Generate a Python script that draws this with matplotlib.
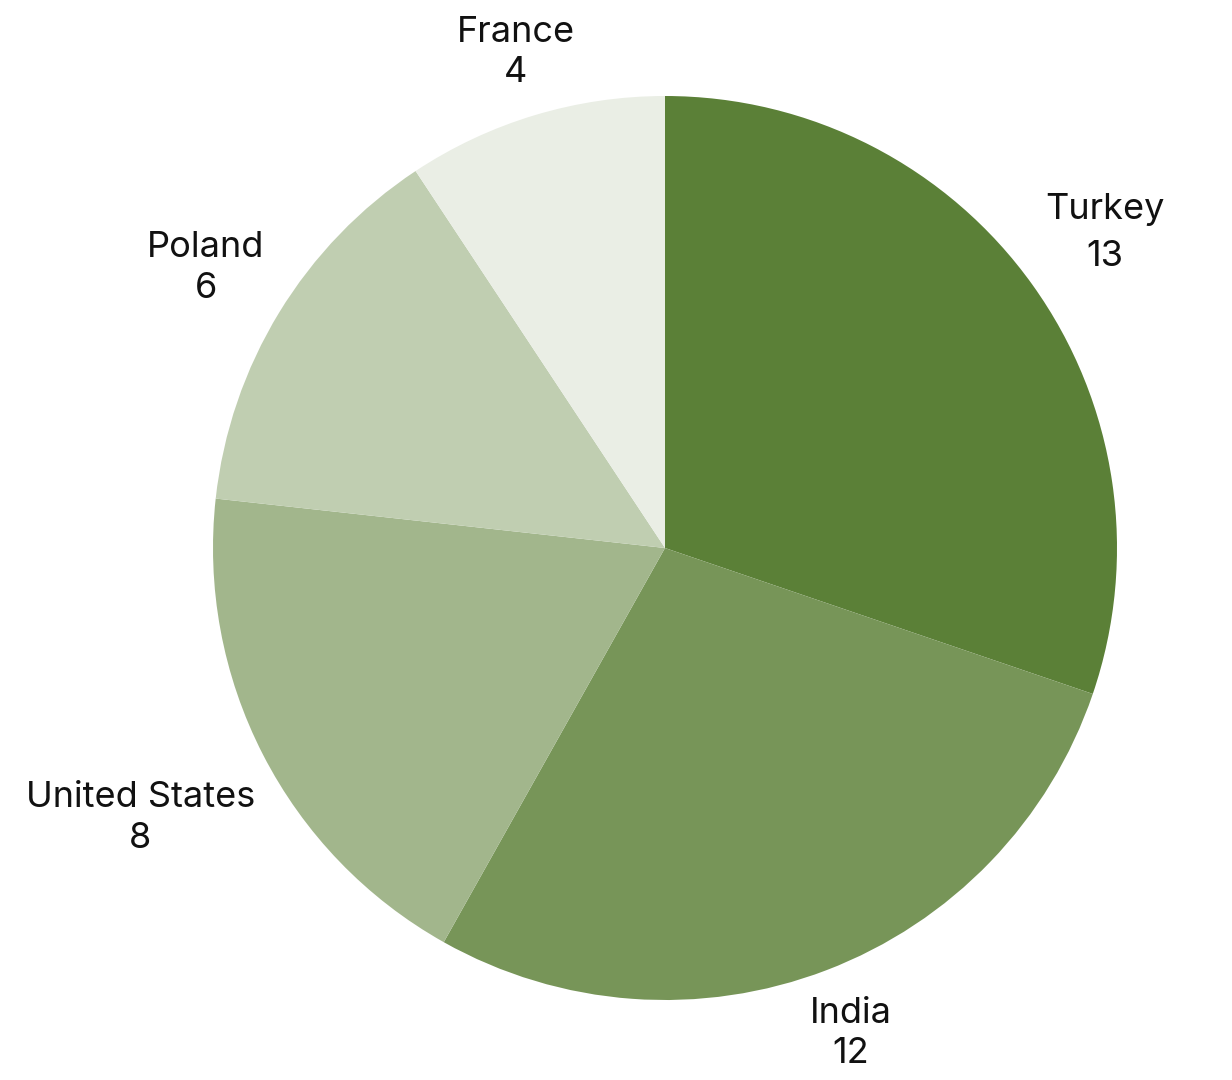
import numpy as np
import matplotlib.pyplot as plt

plt.rcParams['font.family'] = ['Inter', 'DejaVu Sans']

# Data
countries = ['Turkey', 'India', 'United States', 'Poland', 'France']
values = [13, 12, 8, 6, 4]
colors = ['#5b8037', '#779558', '#a2b68c', '#c0ceb1', '#eaeee5']

# label distance from centre (in radii) and line spacing per label
label_dist = [1.197, 1.15, 1.305, 1.19, 1.145]
label_spacing = [1.55, 1.3, 1.3, 1.3, 1.3]

fig = plt.figure(figsize=(12.32, 10.8), dpi=100)
ax = fig.add_axes([0, 0, 1, 1])

wedges, _ = ax.pie(values, colors=colors, startangle=90, counterclock=False,
                   radius=1.0, center=(0, 0),
                   wedgeprops=dict(linewidth=0))

# Labels outside each slice
for w, name, v, r, ls in zip(wedges, countries, values, label_dist, label_spacing):
    mid = np.deg2rad((w.theta1 + w.theta2) / 2)
    ax.text(r * np.cos(mid), r * np.sin(mid), f'{name}\n{v}',
            ha='center', va='center', ma='center', linespacing=ls,
            fontsize=26, color='#111111')

# Map axis to pixels: center (665, 548), radius 452 px
W, H = 1232, 1080
cx, cy, R = 665, 548, 452
ax.set_xlim(-cx / R, (W - cx) / R)
ax.set_ylim(-(H - cy) / R, cy / R)
ax.set_aspect('equal')
ax.axis('off')

fig.savefig('out.png', dpi=100)
